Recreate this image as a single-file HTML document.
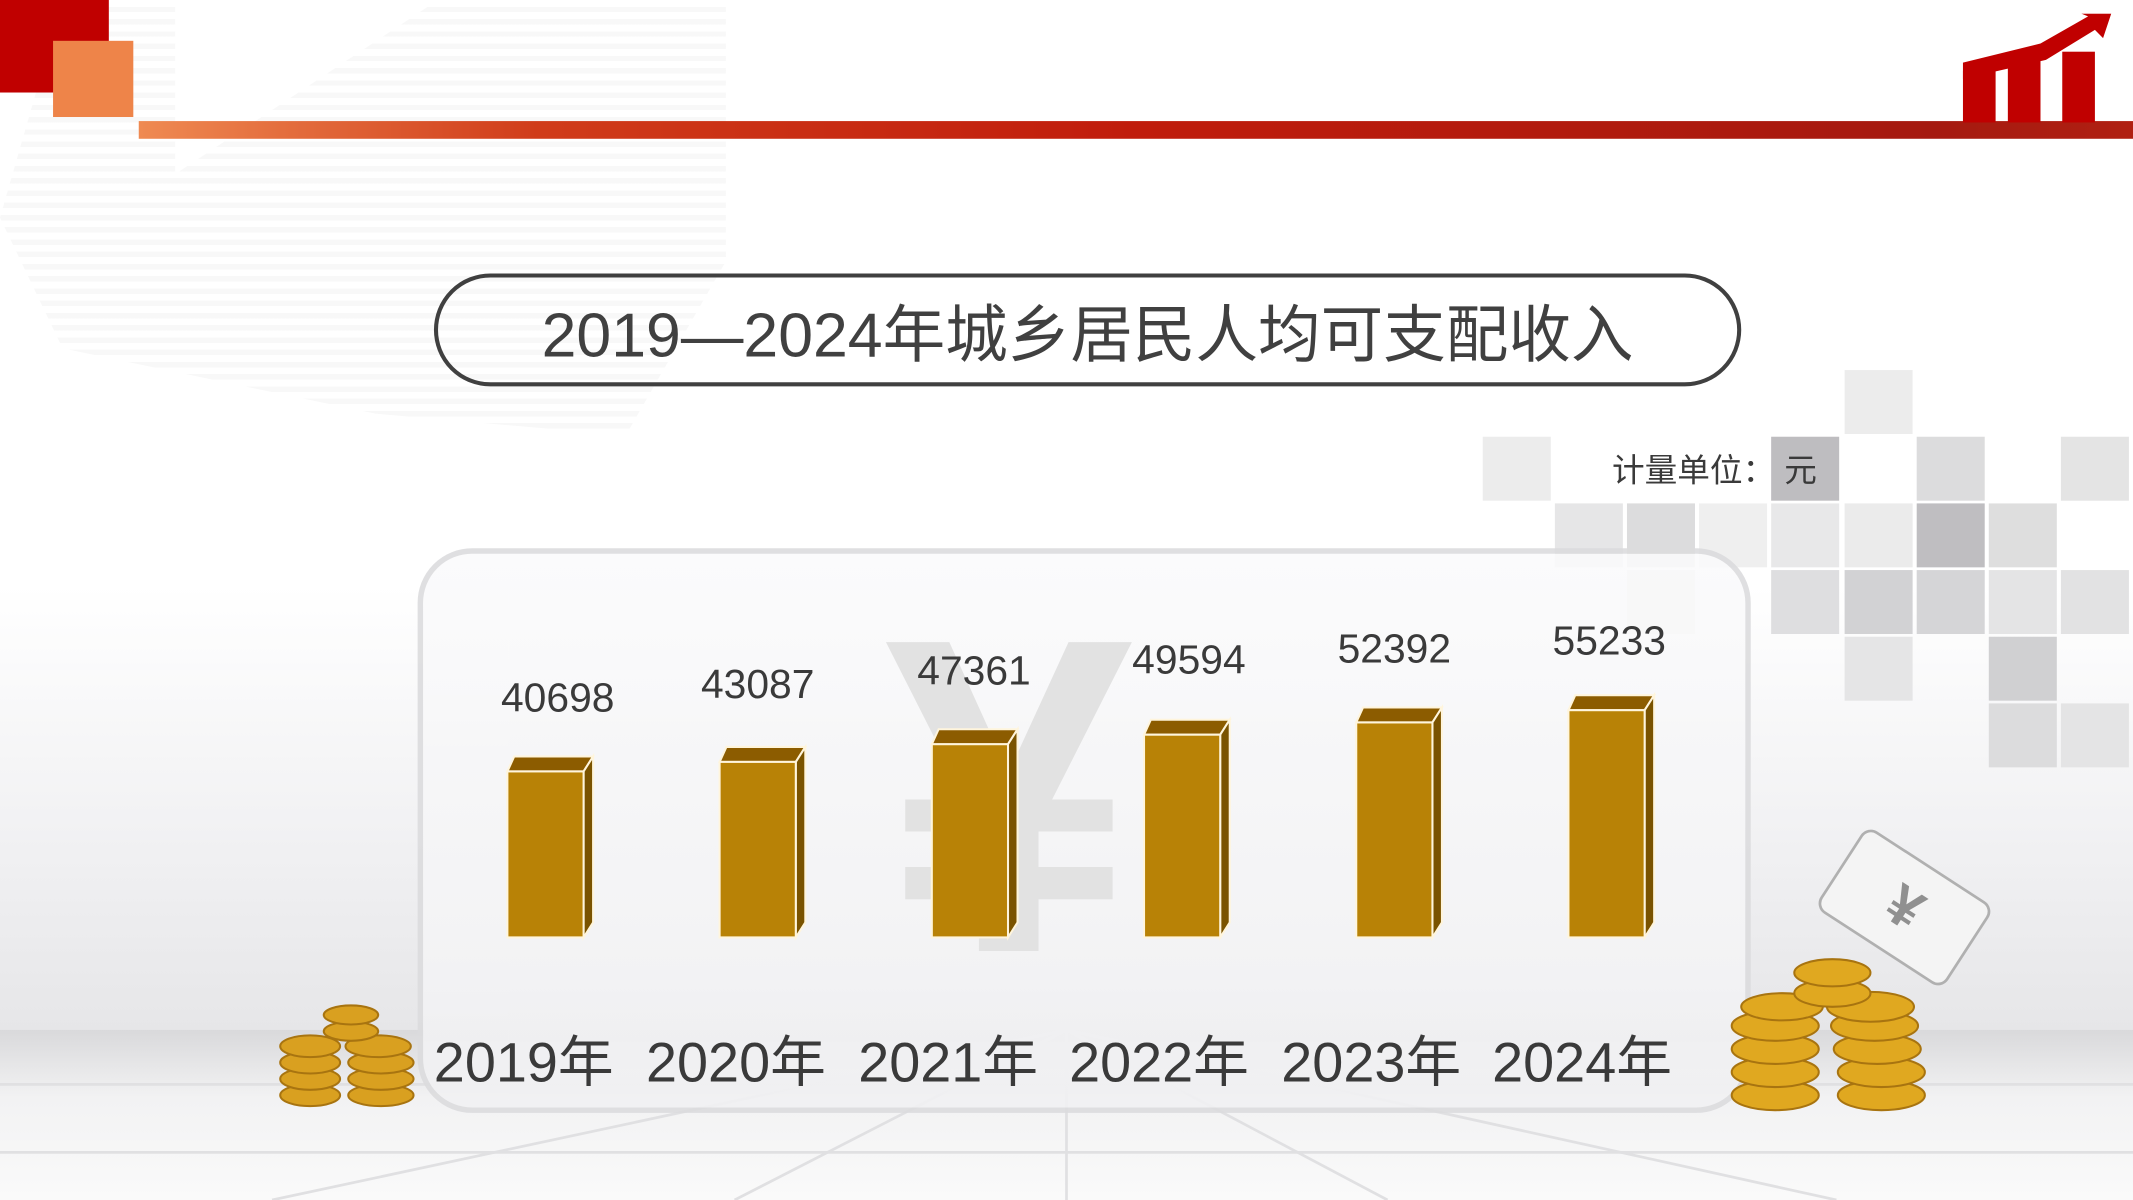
<!DOCTYPE html>
<html><head><meta charset="utf-8"><style>
html,body{margin:0;padding:0;width:2133px;height:1200px;overflow:hidden;background:#fff}
#s{position:absolute;left:0;top:0;width:1568px;height:882px;transform:scale(1.36033,1.36054);transform-origin:0 0;background:#fff;font-family:"Liberation Sans","Noto Sans CJK SC",sans-serif;overflow:hidden}
.a{position:absolute}
.sq{position:absolute;width:50px;height:47px}
.lbl{position:absolute;font-size:30px;color:#3a3a3a;transform:translateX(-50%);white-space:nowrap}
.yr{position:absolute;font-size:41px;color:#3a3a3a;transform:translateX(-50%);white-space:nowrap;top:747px}
</style></head><body><div id="s">
<div class="a" style="left:0;top:430px;width:1568px;height:330px;background:linear-gradient(#fff,#f0f0f2 60%,#e6e6e8)"></div>
<div class="a" style="left:0;top:757px;width:1568px;height:125px;background:linear-gradient(#d9d9db,#f2f2f3 40%,#fafafa)"></div>
<svg class="a" style="left:0;top:757px" width="1568" height="125"><g stroke="#e0e0e2" stroke-width="2" fill="none">
<line x1="784" y1="0" x2="540" y2="125"/><line x1="784" y1="0" x2="1020" y2="125"/><line x1="784" y1="0" x2="784" y2="125"/>
<line x1="784" y1="0" x2="200" y2="125"/><line x1="784" y1="0" x2="1350" y2="125"/>
<line x1="0" y1="40" x2="1568" y2="40"/><line x1="0" y1="90" x2="1568" y2="90"/></g></svg>
<div class="a" style="left:0;top:0;width:920px;height:320px;background:repeating-linear-gradient(#fff 0 5px,#f3f3f3 5px 9px);opacity:.6;clip-path:polygon(5% 0,14% 0,14% 40%,35% 0,58% 0,58% 60%,50% 100%,30% 95%,5% 80%,0 50%)"></div>
<div class="a" style="left:0;top:0;width:80px;height:68px;background:#c00000"></div>
<div class="a" style="left:39px;top:30px;width:59px;height:56px;background:#ee8449"></div>
<div class="a" style="left:102px;top:89px;width:1466px;height:13px;background:linear-gradient(90deg,#ef8a52,#d03c1a 20%,#c01c0c 50%,#a51a10 90%,#b02012)"></div>
<svg class="a" style="left:1440px;top:10px" width="118" height="80"><g fill="#c00000">
<rect x="3" y="42" width="24" height="38"/><rect x="36" y="33" width="24" height="47"/><rect x="76" y="28" width="24" height="52"/>
<polygon points="3,36 60,22 95,2 90,0 112,0 106,18 100,12 64,34 3,48"/></g></svg>
<div class="a" style="left:319px;top:201px;width:955px;height:77px;border:3px solid #404040;border-radius:42px;box-sizing:content-box"></div>
<div class="a" style="left:319px;top:210px;width:961px;text-align:center;font-size:46px;color:#404040;white-space:nowrap">2019—2024年城乡居民人均可支配收入</div>
<div class="sq" style="left:1356px;top:272px;background:#ececec"></div>
<div class="sq" style="left:1090px;top:321px;background:#ececec"></div>
<div class="sq" style="left:1302px;top:321px;background:#bebdc0"></div>
<div class="sq" style="left:1409px;top:321px;background:#dcdcdd"></div>
<div class="sq" style="left:1515px;top:321px;background:#e4e4e4"></div>
<div class="sq" style="left:1143px;top:370px;background:#e6e6e7"></div>
<div class="sq" style="left:1196px;top:370px;background:#dcdcdd"></div>
<div class="sq" style="left:1249px;top:370px;background:#efefef"></div>
<div class="sq" style="left:1302px;top:370px;background:#e8e8e9"></div>
<div class="sq" style="left:1356px;top:370px;background:#ebebeb"></div>
<div class="sq" style="left:1409px;top:370px;background:#bfbec1"></div>
<div class="sq" style="left:1462px;top:370px;background:#dedede"></div>
<div class="sq" style="left:1196px;top:419px;background:#e6e6e6"></div>
<div class="sq" style="left:1302px;top:419px;background:#dedee0"></div>
<div class="sq" style="left:1356px;top:419px;background:#d2d2d4"></div>
<div class="sq" style="left:1409px;top:419px;background:#d5d5d7"></div>
<div class="sq" style="left:1462px;top:419px;background:#e4e4e5"></div>
<div class="sq" style="left:1515px;top:419px;background:#e2e2e3"></div>
<div class="sq" style="left:1356px;top:468px;background:#e5e5e6"></div>
<div class="sq" style="left:1462px;top:468px;background:#d0d0d2"></div>
<div class="sq" style="left:1462px;top:517px;background:#dcdcdd"></div>
<div class="sq" style="left:1515px;top:517px;background:#e4e4e5"></div>
<div class="a" style="left:1185px;top:326px;font-size:24px;color:#3a3a3a;white-space:nowrap">计量单位：&nbsp;元</div>
<div class="a" style="left:307px;top:403px;width:980px;height:415px;border:4px solid #dcdcde;border-radius:40px;background:linear-gradient(#fbfbfc,#f1f1f3);box-sizing:border-box;opacity:.9"></div>
<div class="a" style="left:650px;top:420px;font-size:330px;color:#e2e2e2;font-weight:bold;line-height:1">¥</div>
<svg class="a" style="left:0;top:0" width="1568" height="882">
<g stroke="#fff5dc" stroke-width="1.5">
<g transform="translate(373,0)"><polygon points="0,567 5,556 63,556 56,567" fill="#8c5c00"/><polygon points="56,567 63,556 63,678 56,689" fill="#7a5300"/><rect x="0" y="567" width="56" height="122" fill="#b88206"/></g>
<g transform="translate(529,0)"><polygon points="0,560 5,549 63,549 56,560" fill="#8c5c00"/><polygon points="56,560 63,549 63,678 56,689" fill="#7a5300"/><rect x="0" y="560" width="56" height="129" fill="#b88206"/></g>
<g transform="translate(685,0)"><polygon points="0,547 5,536 63,536 56,547" fill="#8c5c00"/><polygon points="56,547 63,536 63,678 56,689" fill="#7a5300"/><rect x="0" y="547" width="56" height="142" fill="#b88206"/></g>
<g transform="translate(841,0)"><polygon points="0,540 5,529 63,529 56,540" fill="#8c5c00"/><polygon points="56,540 63,529 63,678 56,689" fill="#7a5300"/><rect x="0" y="540" width="56" height="149" fill="#b88206"/></g>
<g transform="translate(997,0)"><polygon points="0,531 5,520 63,520 56,531" fill="#8c5c00"/><polygon points="56,531 63,520 63,678 56,689" fill="#7a5300"/><rect x="0" y="531" width="56" height="158" fill="#b88206"/></g>
<g transform="translate(1153,0)"><polygon points="0,522 5,511 63,511 56,522" fill="#8c5c00"/><polygon points="56,522 63,511 63,678 56,689" fill="#7a5300"/><rect x="0" y="522" width="56" height="167" fill="#b88206"/></g>
</g>
<g fill="#d9a020" stroke="#a87410" stroke-width="1.5">
<ellipse cx="228" cy="805" rx="22" ry="8"/><ellipse cx="228" cy="793" rx="22" ry="8"/><ellipse cx="228" cy="781" rx="22" ry="8"/><ellipse cx="228" cy="769" rx="22" ry="8"/>
<ellipse cx="280" cy="805" rx="24" ry="8"/><ellipse cx="280" cy="793" rx="24" ry="8"/><ellipse cx="280" cy="781" rx="24" ry="8"/><ellipse cx="278" cy="769" rx="24" ry="8"/>
<ellipse cx="258" cy="758" rx="20" ry="7"/><ellipse cx="258" cy="746" rx="20" ry="7"/>
</g>
<g fill="#e0a820" stroke="#a87410" stroke-width="1.5">
<ellipse cx="1305" cy="805" rx="32" ry="11"/><ellipse cx="1305" cy="788" rx="32" ry="11"/><ellipse cx="1305" cy="771" rx="32" ry="11"/><ellipse cx="1305" cy="754" rx="32" ry="11"/><ellipse cx="1310" cy="740" rx="30" ry="10"/>
<ellipse cx="1383" cy="805" rx="32" ry="11"/><ellipse cx="1383" cy="788" rx="32" ry="11"/><ellipse cx="1380" cy="771" rx="32" ry="11"/><ellipse cx="1378" cy="754" rx="32" ry="11"/><ellipse cx="1375" cy="740" rx="32" ry="11"/>
<ellipse cx="1347" cy="730" rx="28" ry="10"/><ellipse cx="1347" cy="715" rx="28" ry="10"/>
</g>
<g transform="translate(1400,667) rotate(33)"><rect x="-55" y="-35" width="110" height="70" rx="8" fill="#f4f4f4" stroke="#b0b0b0" stroke-width="2"/>
<text x="0" y="14" text-anchor="middle" font-size="42" font-weight="bold" fill="#909090" font-family="Liberation Sans,sans-serif">¥</text></g>
</svg>
<div class="lbl" style="left:410px;top:497px">40698</div>
<div class="lbl" style="left:557px;top:487px">43087</div>
<div class="lbl" style="left:716px;top:477px">47361</div>
<div class="lbl" style="left:874px;top:469px">49594</div>
<div class="lbl" style="left:1025px;top:461px">52392</div>
<div class="lbl" style="left:1183px;top:455px">55233</div>
<div class="yr" style="left:385px">2019年</div>
<div class="yr" style="left:541px">2020年</div>
<div class="yr" style="left:697px">2021年</div>
<div class="yr" style="left:852px">2022年</div>
<div class="yr" style="left:1008px">2023年</div>
<div class="yr" style="left:1163px">2024年</div>
</div></body></html>
